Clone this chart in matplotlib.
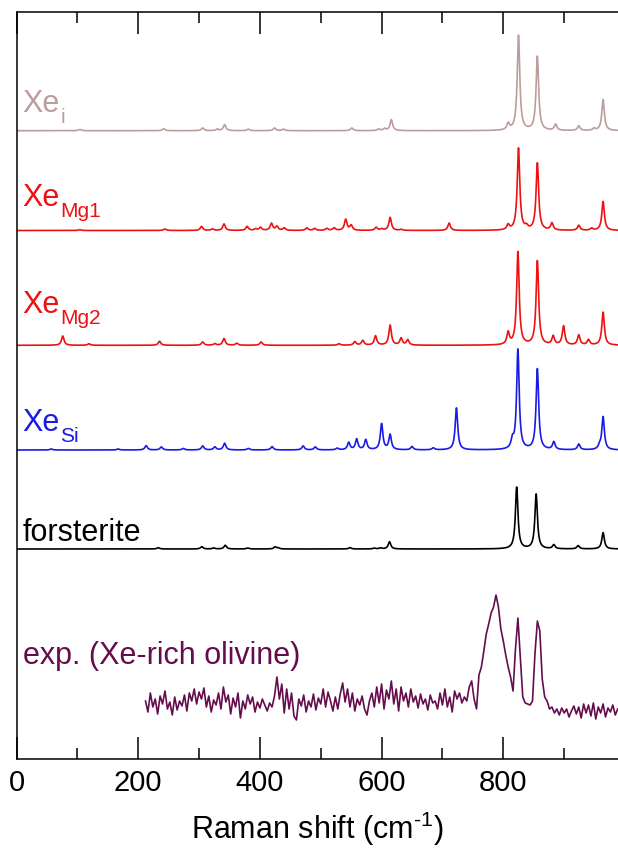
import numpy as np
import matplotlib
matplotlib.use("Agg")
import matplotlib.pyplot as plt
from matplotlib.ticker import MultipleLocator

plt.rcParams['font.family'] = ['Liberation Sans', 'DejaVu Sans']
plt.rcParams['mathtext.fontset'] = 'custom'
plt.rcParams['mathtext.rm'] = 'Liberation Sans'
plt.rcParams['mathtext.it'] = 'Liberation Sans:italic'
plt.rcParams['mathtext.default'] = 'regular'

# ---- data: computed Raman peaks (cm^-1, intensity a.u.) ----
xei_pos = [104, 242, 306, 330, 342, 381, 424, 439, 551, 595, 605, 616, 808, 825, 856, 886, 924, 949, 964]
xei_int = [1.3, 2, 2.7, 1.5, 6, 1.5, 2.7, 1.5, 2.7, 1.5, 2, 11, 6.5, 95, 74, 6, 4.7, 2, 31]

xemg1_pos = [104, 244, 304, 322, 341, 379, 393, 401, 419, 428, 440, 477, 490, 510, 522, 541, 550,
             591, 600, 614, 632, 711, 808, 825, 838, 856, 880, 924, 945, 964]
xemg1_int = [0.8, 1.5, 4, 1.5, 6.5, 4, 1.5, 3, 7, 4, 2.5, 2.5, 2, 2, 2.5, 11, 5,
             3, 1.5, 13, 1, 7.3, 5, 82, 3, 67, 7, 5, 2, 29]

xemg2_pos = [76, 119, 235, 306, 326, 341, 362, 402, 530, 556, 569, 590, 614, 632, 643,
             808, 824, 856, 882, 899, 924, 940, 964]
xemg2_int = [9.3, 1.5, 4, 3.3, 1.5, 6.7, 2, 3.3, 1.5, 3.5, 4.7, 9.3, 20, 7, 5.3,
             12, 93, 84, 8.7, 19, 10, 5.3, 33]

xesi_pos = [57, 167, 213, 238, 274, 306, 326, 342, 381, 420, 471, 491, 527, 546, 559, 574,
            600, 614, 650, 685, 723, 815, 824, 856, 883, 924, 958, 964]
xesi_int = [1, 1, 4.3, 3, 1.5, 4, 3, 6.7, 1.5, 3.3, 4, 3, 1.7, 7.3, 10.7, 10,
            26, 15, 3.3, 2, 42, 8.3, 100, 80.7, 7.7, 5.7, 3, 33]

fo_pos = [233, 304.5, 324, 343, 380, 425, 430, 548, 588, 598, 613, 822, 854, 883, 923, 964]
fo_int = [1.3, 2.3, 1, 3.7, 1, 2, 1, 1.3, 0.8, 1, 7.3, 61.7, 54.7, 4, 3.3, 16.3]

# ---- data: experimental spectrum (4 cm^-1 steps starting at 212 cm^-1) ----
exp_start = 212
exp_step = 4
exp_int = [58, 47, 66, 52, 60, 45, 63, 55, 68, 50, 57, 44, 62, 49, 58, 53, 64, 48, 66, 58,
           70, 55, 67, 60, 71, 52, 63, 47, 59, 54, 66, 50, 72, 57, 64, 45, 61, 52, 66, 41,
           58, 50, 64, 55, 62, 47, 57, 51, 60, 54, 48, 56, 52, 63, 82, 60, 75, 46, 70, 50,
           66, 43, 39, 60, 53, 64, 47, 58, 52, 65, 49, 61, 55, 70, 52, 67, 58, 48, 62, 50,
           65, 76, 57, 70, 52, 66, 48, 60, 54, 63, 50, 44, 58, 66, 52, 72, 56, 75, 50, 69,
           60, 78, 55, 70, 48, 72, 58, 66, 52, 70, 57, 63, 51, 65, 55, 60, 49, 64, 56, 58,
           50, 66, 54, 70, 52, 62, 47, 68, 60, 66, 56, 62, 58, 72, 78, 60, 50, 84, 92, 108,
           125, 135, 146, 152, 164, 152, 130, 118, 104, 92, 82, 68, 110, 141, 102, 62, 56, 55, 54, 58,
           105, 138, 128, 80, 62, 58, 50, 52, 46, 50, 44, 51, 46, 50, 42, 48, 53, 45, 52, 41,
           55, 46, 54, 43, 56, 40, 52, 46, 55, 42, 51, 47, 54, 44, 50]

# vertical offsets of the stacked traces
offsets = {'Xe_i': 628.3, 'Xe_Mg1': 528.5, 'Xe_Mg2': 413.7, 'Xe_Si': 309.0, 'forsterite': 210.0}

def broaden(x, pos, hts, gamma=2.5):
    y = np.zeros_like(x)
    for p, h in zip(pos, hts):
        y += h * gamma**2 / ((x - p)**2 + gamma**2)
    return y

fig = plt.figure(figsize=(6.18, 8.51), dpi=100)
ax = fig.add_axes([16.5/618, 92/851, 1 - 16.5/618, (759 - 11.7)/851])

x = np.linspace(0, 990, 3000)
series = [
    ('Xe_i', xei_pos, xei_int, '#bb9d9b', 'i', 647),
    ('Xe_Mg1', xemg1_pos, xemg1_int, '#ee1111', 'Mg1', 553),
    ('Xe_Mg2', xemg2_pos, xemg2_int, '#ee1111', 'Mg2', 446),
    ('Xe_Si', xesi_pos, xesi_int, '#1a1ae6', 'Si', 328),
]
for key, pos, hts, col, sub, ty in series:
    ax.plot(x, offsets[key] + broaden(x, pos, hts), color=col, lw=1.2)
    ax.text(10, ty, 'Xe', color=col, fontsize=22, va='baseline', ha='left')
    ax.text(72, ty - 11, sub, color=col, fontsize=15, va='baseline', ha='left')

ax.plot(x, offsets['forsterite'] + broaden(x, fo_pos, fo_int), color='#000000', lw=1.2)
ax.text(10, 218, 'forsterite', color='#000000', fontsize=22, va='baseline', ha='left')

exp_x = exp_start + exp_step * np.arange(len(exp_int))
ax.plot(exp_x, exp_int, color='#650d4c', lw=1.2)
ax.text(10, 95, 'exp. (Xe-rich olivine)', color='#650d4c', fontsize=22, va='baseline', ha='left')

ax.set_xlim(0, 988.5)
ax.set_ylim(0, 747.3)
ax.set_yticks([])
ax.xaxis.set_major_locator(MultipleLocator(200))
ax.xaxis.set_minor_locator(MultipleLocator(100))
ax.tick_params(axis='x', which='major', direction='in', length=15.5, width=1.1,
               top=True, bottom=True, labelsize=21, pad=7)
ax.tick_params(axis='x', which='minor', direction='in', length=8, width=1.1,
               top=True, bottom=True)
ax.spines['right'].set_visible(False)
for s in ['left', 'top', 'bottom']:
    ax.spines[s].set_linewidth(1.1)
ax.set_xlabel(r'Raman shift (cm$^{\text{-1}}$)', fontsize=22, labelpad=9)

fig.savefig('out.png', dpi=100)
